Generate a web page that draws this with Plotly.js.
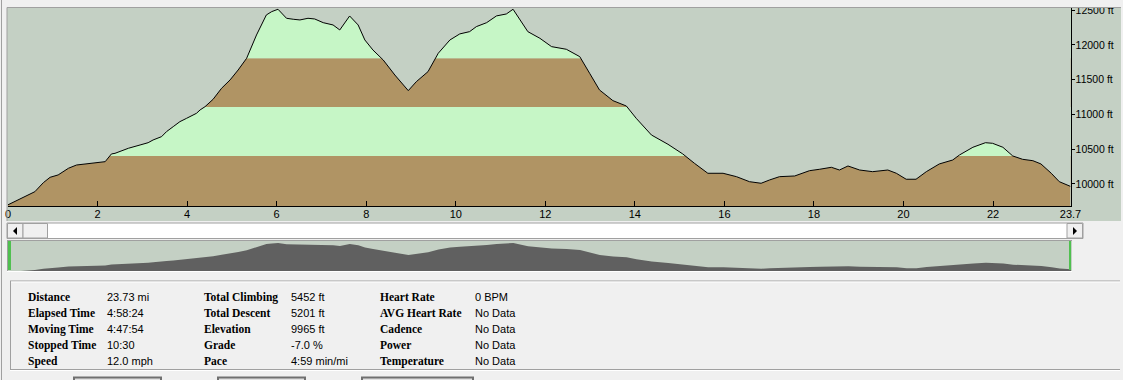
<!DOCTYPE html>
<html>
<head>
<meta charset="utf-8">
<script src="https://cdn.plot.ly/plotly-3.0.1.min.js"></script>
<style>
html,body{margin:0;padding:0;background:#f0f0f0;overflow:hidden;}
#chart{width:1123px;height:380px;}
</style>
</head>
<body>
<div id="chart"></div>
<script>
// ---- data ----
const distanceMi = [0,0.27,0.60,0.79,0.94,1.12,1.35,1.53,1.76,1.98,2.17,2.31,2.39,2.69,2.80,2.95,3.13,3.24,3.43,3.54,3.69,3.84,3.99,4.21,4.29,4.40,4.58,4.77,4.96,5.14,5.33,5.55,5.77,5.89,6.03,6.22,6.37,6.52,6.70,6.85,7.04,7.26,7.41,7.63,7.82,7.97,8.15,8.30,8.38,8.64,8.94,9.12,9.38,9.61,9.87,10.09,10.31,10.46,10.69,10.91,11.13,11.28,11.61,11.88,12.14,12.47,12.77,12.99,13.21,13.51,13.81,14.03,14.37,14.74,15.07,15.33,15.63,15.97,16.27,16.56,16.82,17.01,17.23,17.57,17.90,18.13,18.39,18.57,18.76,19.02,19.31,19.65,19.84,20.06,20.28,20.51,20.80,21.10,21.25,21.55,21.83,21.99,22.22,22.44,22.66,22.89,23.07,23.30,23.48,23.73];
const elevationFt = [9700,9780,9889,10019,10096,10130,10226,10273,10288,10312,10321,10432,10441,10514,10537,10561,10594,10633,10681,10753,10825,10897,10945,11017,11065,11112,11218,11377,11497,11640,11809,12144,12432,12480,12514,12384,12370,12360,12384,12374,12321,12288,12216,12417,12288,12072,11928,11832,11784,11568,11343,11472,11616,11881,12072,12159,12192,12264,12321,12418,12446,12514,12192,12096,11976,11938,11832,11593,11353,11199,11122,10945,10705,10571,10432,10298,10154,10154,10105,10033,10010,10058,10105,10115,10191,10212,10240,10201,10259,10201,10177,10201,10154,10068,10068,10177,10288,10345,10417,10528,10594,10585,10528,10403,10355,10335,10288,10154,10033,9965];
const xTickValues = [0,2,4,6,8,10,12,14,16,18,20,22,23.73];
const xTickLabels = ["0","2","4","6","8","10","12","14","16","18","20","22","23.7"];
const yTickValues = [10000,10500,11000,11500,12000,12500];
const yTickLabels = ["10000 ft","10500 ft","11000 ft","11500 ft","12000 ft","12500 ft"];

const statLabels1 = ["Distance","Elapsed Time","Moving Time","Stopped Time","Speed"];
const statValues1 = ["23.73 mi","4:58:24","4:47:54","10:30","12.0 mph"];
const statLabels2 = ["Total Climbing","Total Descent","Elevation","Grade","Pace"];
const statValues2 = ["5452 ft","5201 ft","9965 ft","-7.0 %","4:59 min/mi"];
const statLabels3 = ["Heart Rate","AVG Heart Rate","Cadence","Power","Temperature"];
const statValues3 = ["0 BPM","No Data","No Data","No Data","No Data"];

// ---- styling ----
const W = 1123, H = 380;
const X = p => p / W, Y = p => 1 - p / H;
const BG = '#c4d0c4', BROWN = '#b09464', LGREEN = '#c6f6c6', PAGE = '#f0f0f0', EDGE = '#a0a0a0';

const eMin = Math.min(...elevationFt), eMax = Math.max(...elevationFt);
const q = (eMax - eMin) / 4;
const bandColors = [BROWN, LGREEN, BROWN, LGREEN];
const yRange = [9683, 12532];
const xRange = [0, distanceMi[distanceMi.length - 1]];

const shapes = [];
// elevation bands (data coordinates); the area above the profile is then painted with the background
for (let i = 0; i < 4; i++) {
  const lo = i === 0 ? yRange[0] : eMin + i * q;
  const hi = i === 3 ? yRange[1] : eMin + (i + 1) * q;
  shapes.push({type: 'rect', xref: 'x', yref: 'y', x0: xRange[0], x1: xRange[1], y0: lo, y1: hi,
    fillcolor: bandColors[i], line: {width: 0}, layer: 'below'});
}

const traces = [];
traces.push({x: distanceMi, y: elevationFt, mode: 'lines', line: {color: BG, width: 0}, xaxis: 'x', yaxis: 'y'});
traces.push({x: distanceMi, y: distanceMi.map(() => yRange[1]), mode: 'lines', line: {width: 0}, fill: 'tonexty', fillcolor: BG, xaxis: 'x', yaxis: 'y'});
traces.push({x: distanceMi, y: elevationFt, mode: 'lines', line: {color: '#000', width: 1}, xaxis: 'x', yaxis: 'y'});
// overview
traces.push({x: distanceMi, y: elevationFt, mode: 'lines', line: {width: 0}, fill: 'tozeroy', fillcolor: '#606060', xaxis: 'x2', yaxis: 'y2'});

function rect(x0, y0, x1, y1, fill, line, lw, layer) {
  shapes.push({type: 'rect', xref: 'paper', yref: 'paper', x0: X(x0), x1: X(x1), y0: Y(y1), y1: Y(y0),
    fillcolor: fill, line: {color: line || 'rgba(0,0,0,0)', width: lw === undefined ? (line ? 1 : 0) : lw}, layer: layer || 'below'});
}
function hline(x0, x1, y, color, w, layer) {
  shapes.push({type: 'line', xref: 'paper', yref: 'paper', x0: X(x0), x1: X(x1), y0: Y(y), y1: Y(y), line: {color: color, width: w || 1}, layer: layer || 'above'});
}
function vline(x, y0, y1, color, w, layer) {
  shapes.push({type: 'line', xref: 'paper', yref: 'paper', x0: X(x), x1: X(x), y0: Y(y0), y1: Y(y1), line: {color: color, width: w || 1}, layer: layer || 'above'});
}
function tri(pts, color) {
  const p = pts.map((pt, i) => (i ? 'L' : 'M') + X(pt[0]) + ',' + Y(pt[1])).join(' ') + ' Z';
  shapes.push({type: 'path', xref: 'paper', yref: 'paper', path: p, fillcolor: color, line: {width: 0}, layer: 'above'});
}

// main panel background
rect(7, 7.5, 1121, 221, BG, null, 0, 'below');
// top strip covering the clipped top label
rect(0, 0, 1123, 7.5, PAGE, null, 0, 'above');
hline(7, 1121, 7.5, EDGE, 1);
vline(7, 7.5, 221, EDGE, 1);
// window left edge
vline(1.5, 0, 380, EDGE, 1);
// scrollbar
rect(7, 223, 1083, 238.5, '#ffffff', EDGE, 1, 'above');
rect(7.5, 223.5, 23, 238, PAGE, EDGE, 1, 'above');
rect(23, 223.5, 47.5, 238, PAGE, EDGE, 1, 'above');
rect(1067, 223.5, 1082.5, 238, PAGE, EDGE, 1, 'above');
tri([[13, 231], [17, 227], [17, 235]], '#000');
tri([[1077, 231], [1073, 227], [1073, 235]], '#000');
// overview frame
rect(7, 240, 1072, 272, BG, null, 0, 'below');
hline(7, 1072, 240.5, EDGE, 1);
vline(7.5, 240, 272, EDGE, 1);
hline(7, 1072, 271.5, '#ffffff', 1);
vline(9.5, 241, 270, '#50c050', 3);
vline(1070, 241, 270, '#50c050', 2);
// stats box
hline(10, 1120, 281, EDGE, 1);
hline(11, 1120, 282, '#ffffff', 1);
vline(10.5, 281, 370, EDGE, 1);
hline(10, 1120, 369.5, EDGE, 1);
hline(10, 1120, 370.5, '#ffffff', 1);
// bottom buttons (tops only visible)
rect(74, 377.5, 161, 392, '#e1e1e1', '#707070', 2, 'above');
rect(218, 377.5, 305, 392, '#e1e1e1', '#707070', 2, 'above');
rect(362, 377.5, 473, 392, '#e1e1e1', '#707070', 2, 'above');

const rowsY = [297, 313, 329, 345, 361];
const annotations = [];
function col(labels, values, lx, vx) {
  labels.forEach((t, i) => annotations.push({xref: 'paper', yref: 'paper', x: X(lx), y: Y(rowsY[i]), xanchor: 'left', yanchor: 'middle',
    text: '<b>' + t + '</b>', showarrow: false, font: {family: 'Liberation Serif', size: 11.5, color: '#000'}}));
  values.forEach((t, i) => annotations.push({xref: 'paper', yref: 'paper', x: X(vx), y: Y(rowsY[i]), xanchor: 'left', yanchor: 'middle',
    text: t, showarrow: false, font: {family: 'Liberation Sans', size: 11, color: '#000'}}));
}
col(statLabels1, statValues1, 26, 105);
col(statLabels2, statValues2, 202, 289);
col(statLabels3, statValues3, 378, 473);

const layout = {
  width: W, height: H,
  margin: {l: 0, r: 0, t: 0, b: 0, pad: 0},
  paper_bgcolor: PAGE, plot_bgcolor: BG,
  showlegend: false, hovermode: false,
  font: {family: 'Liberation Sans', size: 11, color: '#000'},
  xaxis: {domain: [X(8), X(1070.5)], anchor: 'y', range: xRange, tickvals: xTickValues, ticktext: xTickLabels,
    ticks: 'inside', ticklen: 5, tickcolor: '#000', showline: true, linecolor: '#000', linewidth: 1, ticklabelstandoff: -2,
    showgrid: false, zeroline: false, tickfont: {size: 11, color: '#000'}, fixedrange: true, layer: 'above traces'},
  yaxis: {domain: [Y(206), Y(8)], anchor: 'x', side: 'right', range: yRange, tickvals: yTickValues, ticktext: yTickLabels,
    ticks: 'outside', ticklen: 3, tickcolor: '#000', showline: true, linecolor: '#000', linewidth: 1, ticklabelstandoff: -1,
    showgrid: false, zeroline: false, tickfont: {size: 10.5, color: '#000'}, fixedrange: true},
  xaxis2: {domain: [X(8), X(1071)], anchor: 'y2', range: xRange, visible: false, fixedrange: true},
  yaxis2: {domain: [Y(271), Y(242)], anchor: 'x2', range: [9790, 12615], visible: false, fixedrange: true},
  shapes: shapes,
  annotations: annotations
};

Plotly.newPlot('chart', traces, layout, {staticPlot: true, displayModeBar: false});
</script>
</body>
</html>
